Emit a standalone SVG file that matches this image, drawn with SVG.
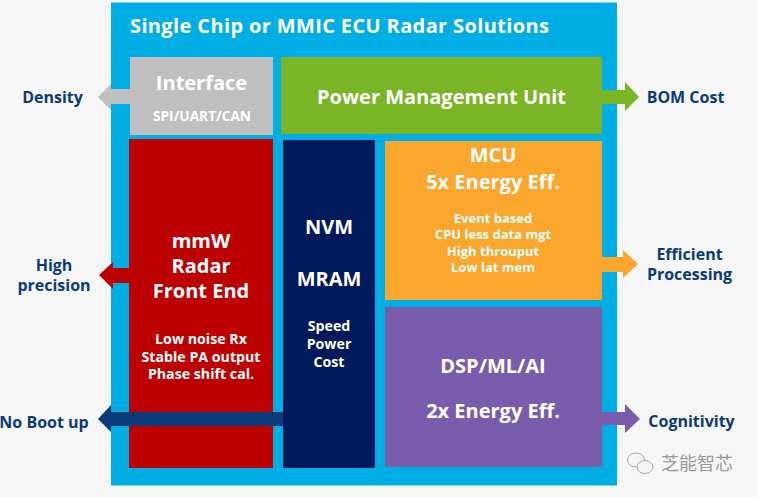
<svg xmlns="http://www.w3.org/2000/svg" width="757" height="497" viewBox="0 0 757 497">
<style>
text{font-family:"Open Sans","Noto Sans","Liberation Sans",sans-serif;font-weight:700;text-anchor:middle;fill:#fff}
.side{fill:#0b3a78;font-size:16px}
.h{font-size:20px}
.s{font-size:13px}
.m{font-size:14.200px}
.wm{font-family:"Noto Sans CJK SC",sans-serif;font-weight:400;font-size:18px;fill:#9a9a9a;text-anchor:start}
</style>
<rect width="757" height="497" fill="#f6f6f6"/>
<rect id="board" x="111" y="2.500" width="506" height="483" fill="#00aee6"/>
<text x="339.500" y="33" style="font-size:20px" textLength="419" lengthAdjust="spacing">Single Chip or MMIC ECU Radar Solutions</text>
<g id="connectors">
<polygon fill="#bfbfbf" points="98,97 111,84 111,89 131,89 131,104 111,104 111,110"/>
<polygon fill="#7ab526" points="601,90 625,90 625,82 639,97 625,111 625,104 601,104"/>
<polygon fill="#bd0000" points="99,275 113,262 113,268 130,268 130,283 113,283 113,289"/>
<polygon fill="#fba62c" points="601,257 623,257 623,250 638,264 623,278 623,272 601,272"/>
<polygon fill="#7a5cac" points="601,412 625,412 625,404 640,419 625,433 625,425 601,425"/>
</g>
<g id="interface"><rect x="130" y="57" width="143" height="78" fill="#bfbfbf"/>
<text x="201.500" y="90" style="font-size:20px">Interface</text>
<text x="202" y="121" style="font-size:13.700px">SPI/UART/CAN</text></g>
<g id="pmu"><rect x="281" y="57" width="321" height="77" fill="#7ab526"/>
<text x="441.500" y="104" class="h">Power Management Unit</text></g>
<g id="frontend"><rect x="129" y="139" width="144" height="329" fill="#bd0000"/>
<text x="201" y="248" class="h">mmW</text>
<text x="201" y="273" class="h">Radar</text>
<text x="201" y="298" class="h">Front End</text>
<text x="201" y="344" class="m">Low noise Rx</text>
<text x="201" y="362" class="m">Stable PA output</text>
<text x="201" y="379" class="m">Phase shift cal.</text></g>
<g id="nvm"><rect x="283" y="140" width="92" height="328" fill="#001a5c"/>
<text x="329" y="234" class="h">NVM</text>
<text x="329" y="286" class="h">MRAM</text>
<text x="329" y="331" class="m">Speed</text>
<text x="329" y="349" class="m">Power</text>
<text x="329" y="367" class="m">Cost</text></g>
<g id="mcu"><rect x="385" y="141" width="217" height="159" fill="#fba62c"/>
<text x="493" y="162" class="h">MCU</text>
<text x="493" y="189" class="h">5x Energy Eff.</text>
<text x="493" y="223" class="s">Event based</text>
<text x="493" y="239" class="s">CPU less data mgt</text>
<text x="493" y="256" class="s">High throuput</text>
<text x="493" y="272" class="s">Low lat mem</text></g>
<g id="dsp"><rect x="385" y="307" width="217" height="160" fill="#7a5cac"/>
<text x="493" y="373" class="h">DSP/ML/AI</text>
<text x="493" y="418" class="h">2x Energy Eff.</text></g>
<polygon fill="#0b3a78" points="98,419 111,405 111,412 283,412 283,426 111,426 111,432"/>
<g id="labels">
<text x="52.500" y="103" class="side">Density</text>
<text x="685.500" y="103" class="side">BOM Cost</text>
<text x="54" y="271" class="side">High</text>
<text x="54" y="291" class="side">precision</text>
<text x="44" y="428" class="side">No Boot up</text>
<text x="689.500" y="260" class="side">Efficient</text>
<text x="689.500" y="280" class="side">Processing</text>
<text x="691.500" y="427" class="side">Cognitivity</text>
</g>
<g id="watermark" fill="#f6f6f6" stroke="#a8a8a8" stroke-width="1">
<ellipse cx="636" cy="460" rx="8.500" ry="7"/>
<ellipse cx="645" cy="467" rx="8" ry="6.500"/>
<text class="wm" x="661" y="470" style="stroke:none">芝能智芯</text>
</g>
</svg>
